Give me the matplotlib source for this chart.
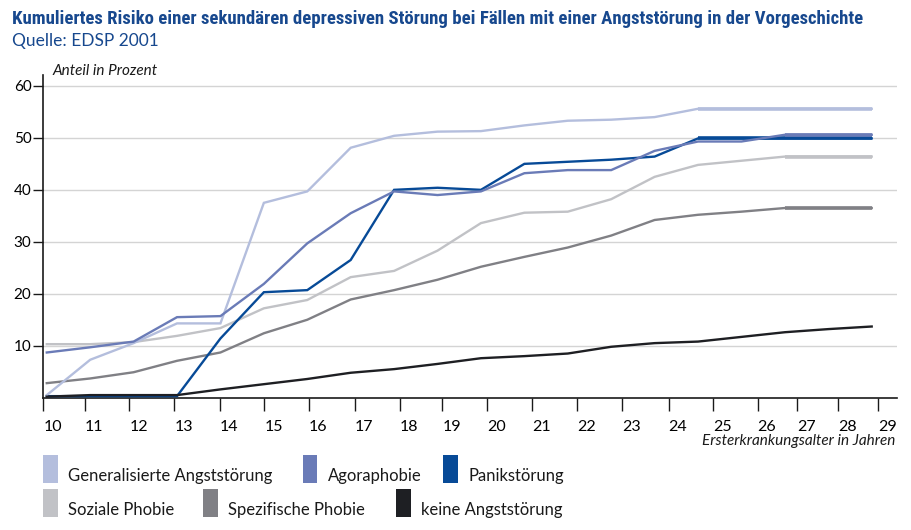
import numpy as np
import matplotlib.pyplot as plt
from matplotlib.patches import Rectangle

# Ersterkrankungsalter (Jahre)
ages = np.arange(10, 30)

gas    = [0.5, 7.3, 10.5, 14.3, 14.3, 37.5, 39.7, 48.1, 50.4, 51.2,
          51.3, 52.4, 53.3, 53.5, 54.0, 55.6, 55.6, 55.6, 55.6, 55.6]
agora  = [8.7, 9.7, 10.8, 15.5, 15.7, 21.9, 29.7, 35.5, 39.7, 39.0,
          39.7, 43.2, 43.8, 43.8, 47.5, 49.3, 49.3, 50.6, 50.6, 50.6]
panik  = [0.3, 0.3, 0.3, 0.3, 11.4, 20.3, 20.7, 26.5, 40.0, 40.4,
          40.0, 45.0, 45.4, 45.8, 46.4, 49.9, 49.9, 49.9, 49.9, 49.9]
sozial = [10.3, 10.3, 10.7, 11.9, 13.4, 17.2, 18.8, 23.2, 24.4, 28.3,
          33.6, 35.6, 35.8, 38.2, 42.5, 44.8, 45.6, 46.4, 46.4, 46.4]
spez   = [2.8, 3.7, 4.9, 7.1, 8.7, 12.4, 15.0, 18.9, 20.7, 22.7,
          25.2, 27.1, 28.9, 31.2, 34.2, 35.2, 35.8, 36.5, 36.5, 36.5]
keine  = [0.2, 0.5, 0.5, 0.5, 1.6, 2.6, 3.6, 4.8, 5.5, 6.5,
          7.6, 8.0, 8.5, 9.8, 10.5, 10.8, 11.7, 12.6, 13.2, 13.7]

names = ['Generalisierte Angststörung', 'Agoraphobie', 'Panikstörung',
         'Soziale Phobie', 'Spezifische Phobie', 'keine Angststörung']
colors = ['#b4bedd', '#6a7bb7', '#074a97', '#c1c2c6', '#808085', '#1e1f23']

# tick marks in the original are not evenly spaced
tick_pos = [9.92, 10.87, 11.90, 12.94, 13.98, 15.01, 16.03, 17.10, 18.14, 19.11,
            20.15, 21.18, 22.22, 23.26, 24.32, 25.35, 26.37, 27.29, 28.23, 29.15]
tick_lab = [str(a) for a in ages]
y_ticks = [10, 20, 30, 40, 50, 60]

BLUE = '#17488e'
FONT = ['Lato', 'DejaVu Sans']


def plot_series(ax, y, c, z):
    y = np.asarray(y)
    ax.plot(ages, y, color=c, lw=1.7, zorder=z, solid_joinstyle='miter')
    # flat end part is drawn a bit heavier
    k = len(y) - 1
    while k > 0 and y[k - 1] == y[-1]:
        k -= 1
    if k < len(y) - 1:
        ax.plot(ages[k:], y[k:], color=c, lw=2.6, zorder=z,
                solid_capstyle='butt')


def main():
    plt.rcParams['font.family'] = FONT

    W, H = 911, 530
    fig = plt.figure(figsize=(W / 100, H / 100), dpi=100)
    ax = fig.add_axes([43.3 / W, 1 - 397.7 / H, (896.7 - 43.3) / W, (397.7 - 75) / H])

    series = [gas, agora, panik, sozial, spez, keine]
    order = [4, 5, 3, 2, 1, 6]   # zorder per series
    for y, c, z in zip(series, colors, order):
        plot_series(ax, y, c, z)

    ax.set_xlim(9.922, 29.576)
    ax.set_ylim(0, 62.1)

    ax.set_yticks(y_ticks)
    ax.set_yticklabels([str(v) for v in y_ticks], fontsize=11)
    ax.set_xticks(tick_pos)
    ax.set_xticklabels(tick_lab, fontsize=11.5, ha='left')

    ax.tick_params(axis='y', length=7, width=1, pad=1.5, color='#1a1a1a')
    ax.tick_params(axis='x', length=9.5, width=1, pad=6.5, color='#1a1a1a')
    ax.grid(axis='y', color='#d4d4d4', lw=1)
    ax.set_axisbelow(True)
    for s in ['top', 'right']:
        ax.spines[s].set_visible(False)
    for s in ['left', 'bottom']:
        ax.spines[s].set_linewidth(1.2)
        ax.spines[s].set_color('#1a1a1a')

    # titles
    fig.text(12 / W, 1 - 24 / H,
             'Kumuliertes Risiko einer sekundären depressiven Störung bei Fällen mit einer Angststörung in der Vorgeschichte',
             fontsize=13.5, fontweight='bold', color=BLUE,
             family=['Roboto Condensed', 'Roboto', 'DejaVu Sans'], va='baseline')
    fig.text(12 / W, 1 - 46 / H, 'Quelle: EDSP 2001', fontsize=12.5,
             color=BLUE, va='baseline')
    fig.text(52 / W, 1 - 75 / H, 'Anteil in Prozent', fontsize=11,
             style='italic', color='#1a1a1a', va='baseline')
    fig.text(895 / W, 1 - 445 / H, 'Ersterkrankungsalter in Jahren',
             fontsize=11, style='italic', color='#1a1a1a', ha='right',
             va='baseline')

    # legend, two rows of colour blocks
    rows = [(455, [(43.3, 0), (302.7, 1), (443.3, 2)]),
            (489, [(43.3, 3), (203.3, 4), (396, 5)])]
    for top, items in rows:
        for x0, i in items:
            fig.patches.append(Rectangle((x0 / W, 1 - (top + 28) / H), 14.5 / W, 28 / H,
                                         transform=fig.transFigure,
                                         facecolor=colors[i], edgecolor='none'))
            fig.text((x0 + 25) / W, 1 - (top + 26) / H, names[i], fontsize=12,
                     color='#1a1a1a', va='baseline')

    fig.savefig('out.png', dpi=100)


if __name__ == "__main__":
    main()
